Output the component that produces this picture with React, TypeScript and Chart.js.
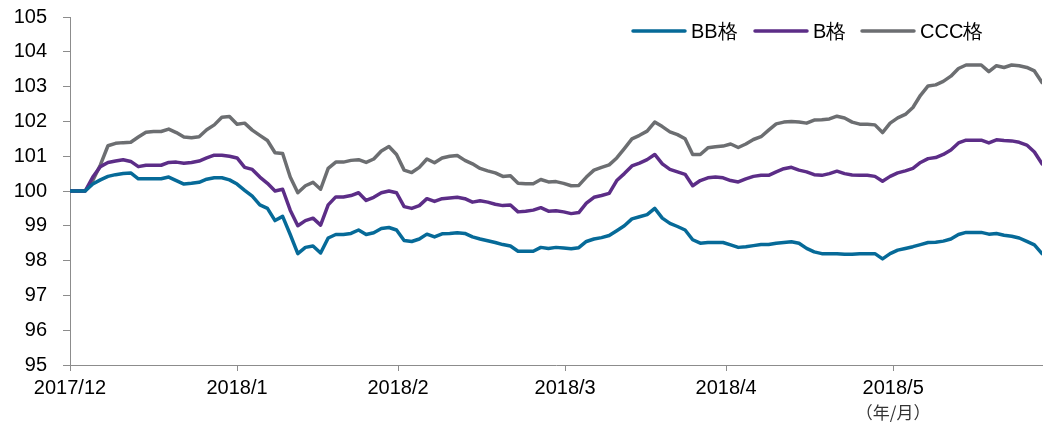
import React, { useEffect, useRef } from "react";
import { Chart, registerables } from "chart.js";

Chart.register(...registerables);

const seriesNames = ["BB格", "B格", "CCC格"];
const seriesColors = ["#066a98", "#5c2d87", "#6c6e71"];

const monthLabels = ["2017/12", "2018/1", "2018/2", "2018/3", "2018/4", "2018/5"];
const monthTickIdx = [0, 22, 43.2, 65.2, 86.4, 108.4];
const axisUnitLabel = "（年/月）";

const bbValues = [
  100, 100, 100, 100.2, 100.32, 100.42, 100.47, 100.5, 100.52, 100.35,
  100.35, 100.35, 100.35, 100.4, 100.3, 100.2, 100.22, 100.25, 100.34, 100.38,
  100.38, 100.32, 100.2, 100.02, 99.85, 99.6, 99.5, 99.15, 99.27, 98.75,
  98.2, 98.38, 98.42, 98.22, 98.65, 98.75, 98.75, 98.78, 98.88, 98.75,
  98.8, 98.92, 98.95, 98.88, 98.58, 98.55, 98.62, 98.76, 98.68, 98.77,
  98.78, 98.8, 98.78, 98.68, 98.62, 98.57, 98.52, 98.46, 98.42, 98.27,
  98.27, 98.27, 98.38, 98.35, 98.38, 98.36, 98.34, 98.37, 98.55, 98.62,
  98.66, 98.72, 98.86, 99.0, 99.2, 99.26, 99.32, 99.5, 99.22, 99.07,
  98.98, 98.88, 98.6, 98.5, 98.52, 98.52, 98.52, 98.45, 98.38, 98.4,
  98.43, 98.46, 98.46, 98.5, 98.52, 98.54, 98.5, 98.35, 98.25, 98.2,
  98.2, 98.2, 98.18, 98.18, 98.2, 98.2, 98.2, 98.05, 98.2, 98.3,
  98.35, 98.4, 98.46, 98.52, 98.53, 98.56, 98.62, 98.75, 98.81, 98.81,
  98.81, 98.76, 98.78, 98.73, 98.7, 98.65, 98.55, 98.45, 98.2,
];

const bValues = [
  100, 100, 100, 100.4, 100.7, 100.82, 100.86, 100.9, 100.85, 100.7,
  100.74, 100.74, 100.74, 100.82, 100.83, 100.8, 100.82, 100.86, 100.95, 101.03,
  101.03, 101.0, 100.95, 100.68, 100.62, 100.4, 100.22, 100.0, 100.05, 99.45,
  99.0, 99.15, 99.22, 99.02, 99.6, 99.83, 99.83, 99.87, 99.95, 99.73,
  99.82, 99.95, 100.0, 99.95, 99.55, 99.5, 99.58, 99.78, 99.7, 99.78,
  99.8, 99.82, 99.78, 99.68, 99.72, 99.68, 99.62, 99.58, 99.6, 99.4,
  99.42, 99.45, 99.52, 99.42, 99.43, 99.4, 99.35, 99.38, 99.65, 99.82,
  99.87, 99.93, 100.3, 100.5, 100.72, 100.8, 100.9, 101.05, 100.78, 100.62,
  100.55, 100.48, 100.15, 100.3, 100.38, 100.4, 100.38, 100.3, 100.26, 100.35,
  100.42, 100.45, 100.45, 100.55, 100.64, 100.68, 100.6, 100.55, 100.47, 100.45,
  100.5, 100.57, 100.5, 100.46, 100.45, 100.45, 100.42, 100.28, 100.42, 100.52,
  100.58, 100.65, 100.82, 100.93, 100.96, 101.05, 101.18, 101.38, 101.46, 101.46,
  101.46, 101.38, 101.47, 101.45, 101.44, 101.4, 101.32, 101.12, 100.78,
];

const cccValues = [
  100, 100, 100, 100.3, 100.75, 101.3, 101.37, 101.39, 101.4, 101.55,
  101.69, 101.71, 101.71, 101.78, 101.68, 101.55, 101.53, 101.56, 101.76, 101.9,
  102.12, 102.14, 101.92, 101.95, 101.75, 101.6, 101.45, 101.1, 101.08, 100.4,
  99.95, 100.15, 100.25, 100.05, 100.65, 100.83, 100.83, 100.88, 100.9, 100.82,
  100.92, 101.15, 101.28, 101.05, 100.6, 100.53, 100.68, 100.92, 100.81, 100.95,
  101.0, 101.02, 100.88, 100.78, 100.65, 100.58, 100.52, 100.42, 100.44, 100.22,
  100.21, 100.21, 100.33, 100.26, 100.27, 100.22, 100.15, 100.16, 100.4, 100.6,
  100.68, 100.75, 100.95, 101.22, 101.5, 101.6, 101.72, 101.98, 101.85, 101.7,
  101.62, 101.5, 101.05, 101.05, 101.24, 101.27, 101.29, 101.35, 101.25, 101.35,
  101.48, 101.56, 101.75, 101.93, 101.98, 102.0, 101.98, 101.95, 102.04, 102.05,
  102.07, 102.15, 102.1, 101.98, 101.92, 101.92, 101.9, 101.68, 101.95, 102.1,
  102.2, 102.4, 102.75, 103.02, 103.05, 103.15, 103.3, 103.52, 103.62, 103.62,
  103.62, 103.43, 103.6, 103.55, 103.62, 103.6, 103.55, 103.45, 103.12,
];

const allSeries = [bbValues, bValues, cccValues];

const FONT = "'Liberation Sans', Arial, sans-serif";

const overlayPlugin = {
  id: "overlay",
  afterDraw(chart: any) {
    const ctx = chart.ctx;
    ctx.save();
    const legendStarts = [633, 755, 862];
    const lineLen = 52;
    const ly = 31;
    seriesNames.forEach((name, i) => {
      const x0 = legendStarts[i];
      ctx.strokeStyle = seriesColors[i];
      ctx.lineWidth = 3.5;
      ctx.lineCap = "round";
      ctx.beginPath();
      ctx.moveTo(x0, ly);
      ctx.lineTo(x0 + lineLen, ly);
      ctx.stroke();
      ctx.fillStyle = "#000";
      ctx.font = `20px ${FONT}`;
      ctx.textAlign = "left";
      ctx.textBaseline = "middle";
      ctx.fillText(name, x0 + lineLen + 6, ly + 1);
    });
    const xs = chart.scales.x;
    const ux = xs.getPixelForValue(monthTickIdx[monthTickIdx.length - 1]);
    ctx.fillStyle = "#333";
    ctx.font = "17px 'Noto Sans CJK SC', sans-serif";
    ctx.textAlign = "center";
    ctx.textBaseline = "middle";
    ctx.fillText(axisUnitLabel, ux, 413);
    ctx.restore();
  },
};

export default function App() {
  const ref = useRef<HTMLCanvasElement | null>(null);
  useEffect(() => {
    if (!ref.current) return;
    const datasets = allSeries.map((vals, i) => ({
      label: seriesNames[i],
      data: vals.map((v, k) => ({ x: k, y: v })),
      borderColor: seriesColors[i],
      backgroundColor: seriesColors[i],
      borderWidth: 3.5,
      pointRadius: 0,
      tension: 0,
      borderJoinStyle: "round" as const,
      borderCapStyle: "round" as const,
    }));
    const chart = new Chart(ref.current, {
      type: "line",
      data: { datasets },
      plugins: [overlayPlugin],
      options: {
        animation: false,
        responsive: false,
        maintainAspectRatio: false,
        layout: { padding: { left: 0, right: 1, top: 17, bottom: 0 } },
        plugins: { legend: { display: false }, tooltip: { enabled: false } },
        scales: {
          x: {
            type: "linear",
            min: 0,
            max: bbValues.length - 1,
            afterBuildTicks: (axis: any) => {
              axis.ticks = monthTickIdx.map((v) => ({ value: v }));
            },
            afterFit: (axis: any) => {
              axis.height = 60;
              axis.paddingLeft = 0;
              axis.paddingRight = 0;
            },
            border: { color: "#8c8c8c", width: 1 },
            grid: { drawOnChartArea: false, color: "#8c8c8c", tickLength: 6 },
            ticks: {
              autoSkip: false,
              maxRotation: 0,
              padding: 5,
              color: "#000",
              font: { family: FONT, size: 20 },
              callback: (_v: any, idx: number) => monthLabels[idx] ?? "",
            },
          },
          y: {
            min: 95,
            max: 105,
            afterFit: (axis: any) => {
              axis.width = 70;
              axis.paddingTop = 0;
              axis.paddingBottom = 0;
            },
            border: { color: "#8c8c8c", width: 1 },
            grid: { drawOnChartArea: false, color: "#8c8c8c", tickLength: 7 },
            ticks: {
              stepSize: 1,
              padding: 16,
              color: "#000",
              font: { family: FONT, size: 20 },
            },
          },
        },
      },
    });
    return () => chart.destroy();
  }, []);
  return (
    <div style={{ position: "fixed", left: 0, top: 0, width: 1043, height: 425, background: "#fff" }}>
      <canvas ref={ref} width={1043} height={425} style={{ display: "block" }} />
    </div>
  );
}
